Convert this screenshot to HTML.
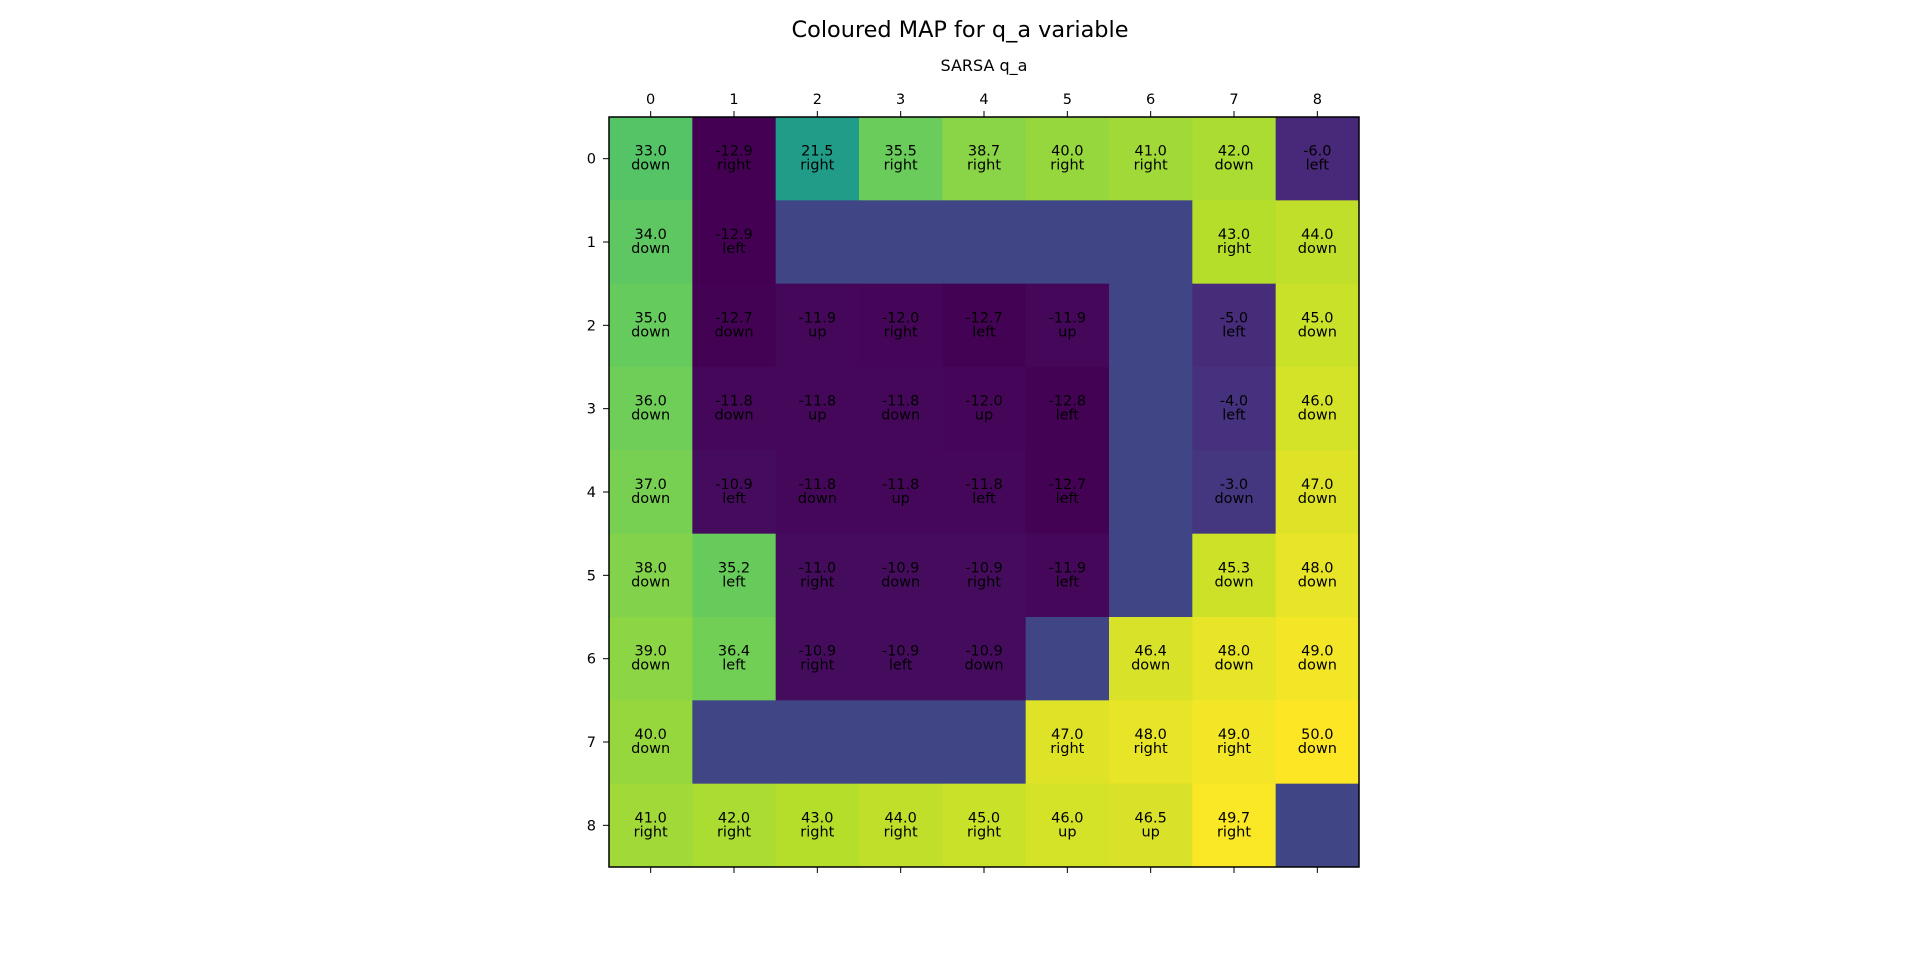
<!DOCTYPE html>
<html><head><meta charset="utf-8"><style>
body{margin:0;background:#fff;width:1920px;height:973px;overflow:hidden;font-family:"DejaVu Sans","Liberation Sans",sans-serif}
</style></head><body>
<svg id="chart" width="1920" height="973" font-family="DejaVu Sans, Liberation Sans, sans-serif">
<text x="960" y="37" text-anchor="middle" font-size="22.4">Coloured MAP for q_a variable</text>
<text x="984" y="71" text-anchor="middle" font-size="16">SARSA q_a</text>
<g id="cells"></g>
<g id="ticks"></g>
<rect x="609" y="117" width="750" height="750" fill="none" stroke="#000" stroke-width="1.5"/>
</svg>
<script>
const rows=[0,1,2,3,4,5,6,7,8];
const cols=[0,1,2,3,4,5,6,7,8];
const values=[
[33.0,-12.9,21.5,35.5,38.7,40.0,41.0,42.0,-6.0],
[34.0,-12.9,null,null,null,null,null,43.0,44.0],
[35.0,-12.7,-11.9,-12.0,-12.7,-11.9,null,-5.0,45.0],
[36.0,-11.8,-11.8,-11.8,-12.0,-12.8,null,-4.0,46.0],
[37.0,-10.9,-11.8,-11.8,-11.8,-12.7,null,-3.0,47.0],
[38.0,35.2,-11.0,-10.9,-10.9,-11.9,null,45.3,48.0],
[39.0,36.4,-10.9,-10.9,-10.9,null,46.4,48.0,49.0],
[40.0,null,null,null,null,47.0,48.0,49.0,50.0],
[41.0,42.0,43.0,44.0,45.0,46.0,46.5,49.7,null]];
const actions=[
["down","right","right","right","right","right","right","down","left"],
["down","left","","","","","","right","down"],
["down","down","up","right","left","up","","left","down"],
["down","down","up","down","up","left","","left","down"],
["down","left","down","up","left","left","","down","down"],
["down","left","right","down","right","left","","down","down"],
["down","left","right","left","down","","down","down","down"],
["down","","","","","right","right","right","down"],
["right","right","right","right","right","up","up","right",""]];
const wallValue=0;
const V=[[68,1,84],[72,40,120],[62,74,137],[49,104,142],[38,130,142],[31,158,137],[53,183,121],[110,206,88],[181,222,43],[253,231,37]];
function viridis(t){t=Math.max(0,Math.min(1,t))*9;const i=Math.min(8,Math.floor(t)),f=t-i;const a=V[i],b=V[i+1];return`rgb(${a.map((c,k)=>Math.round(c+(b[k]-c)*f)).join(',')})`;}
const flat=values.flat().filter(v=>v!==null);const vmin=Math.min(...flat),vmax=Math.max(...flat);
const X0=609,Y0=117,S=750/9;
const xs=c=>X0+c*S, ys=r=>Y0+r*S;
const NS="http://www.w3.org/2000/svg";
const g=document.getElementById('cells'),tg=document.getElementById('ticks');
rows.forEach(r=>cols.forEach(c=>{
const v=values[r][c];const val=v===null?wallValue:v;
const rect=document.createElementNS(NS,'rect');
rect.setAttribute('x',xs(c));rect.setAttribute('y',ys(r));rect.setAttribute('width',S+0.5);rect.setAttribute('height',S+0.5);
rect.setAttribute('fill',viridis((val-vmin)/(vmax-vmin)));


g.appendChild(rect);
if(v!==null){
const t=document.createElementNS(NS,'text');
t.setAttribute('x',xs(c)+S/2);t.setAttribute('y',ys(r)+S/2-3);t.setAttribute('text-anchor','middle');t.setAttribute('font-size','14.5');


t.innerHTML=`<tspan x="${xs(c)+S/2}">${v.toFixed(1)}</tspan><tspan x="${xs(c)+S/2}" dy="14">${actions[r][c]}</tspan>`;
g.appendChild(t);}
}));
cols.forEach(c=>{const x=xs(c)+S/2;
[[Y0-6,Y0],[Y0+750,Y0+756]].forEach(([a,b])=>{const l=document.createElementNS(NS,'line');l.setAttribute('x1',x);l.setAttribute('x2',x);l.setAttribute('y1',a);l.setAttribute('y2',b);l.setAttribute('stroke','#000');


tg.appendChild(l);});
const t=document.createElementNS(NS,'text');t.setAttribute('x',x);t.setAttribute('y',Y0-13);t.setAttribute('text-anchor','middle');t.setAttribute('font-size','14.5');t.textContent=c;


tg.appendChild(t);});
rows.forEach(r=>{const y=ys(r)+S/2;
const l=document.createElementNS(NS,'line');l.setAttribute('x1',X0-6);l.setAttribute('x2',X0);l.setAttribute('y1',y);l.setAttribute('y2',y);l.setAttribute('stroke','#000');


tg.appendChild(l);
const t=document.createElementNS(NS,'text');t.setAttribute('x',X0-13);t.setAttribute('y',y+5);t.setAttribute('text-anchor','end');t.setAttribute('font-size','14.5');t.textContent=r;


tg.appendChild(t);});
</script>
</body></html>
